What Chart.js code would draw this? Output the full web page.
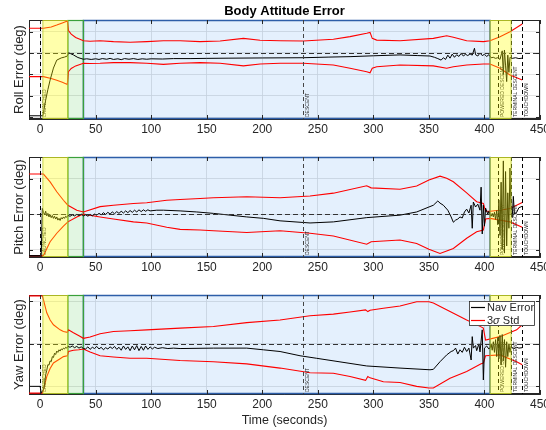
<!DOCTYPE html>
<html>
<head>
<meta charset="utf-8">
<script src="https://cdn.jsdelivr.net/npm/chart.js@4"></script>
<style>
  html, body { margin: 0; padding: 0; background: #fff; }
  #wrap { position: relative; width: 546px; height: 430px; }
  .panel { position: absolute; left: 0; width: 546px; }
  canvas { display: block; }
</style>
</head>
<body>
<div id="wrap">
  <div class="panel" style="top:0;height:140px"><canvas id="roll"></canvas></div>
  <div class="panel" style="top:140px;height:140px"><canvas id="pitch"></canvas></div>
  <div class="panel" style="top:280px;height:150px"><canvas id="yaw"></canvas></div>
</div>
<script>
// time axis and mission events (seconds)
const xTicks = [0, 50, 100, 150, 200, 250, 300, 350, 400, 450];
const eventTimes = [0, 237, 412, 424, 434];
const eventNames = ["LAUNCHED", "DESCENT", "POWERED DESCENT", "TERMINAL DESCENT", "TOUCHDOWN"];
const ascentPhase = [2.5, 25];
const alignPhase = [25, 39];
const cruisePhase = [39, 405];
const landingPhase = [405, 424];

// roll
const rollTicks = [-3, -2, -1, 0, 1];
const rollStdT = [-10, 3, 10, 15, 20, 24.5, 25.5, 28, 32, 39, 45, 54, 66, 81, 96, 111, 126, 144, 162, 183, 198, 216, 237, 264, 279, 294, 297, 299, 303, 324, 354, 366, 372, 384, 399, 405, 414, 423, 434];
const rollUp = [1.15, 1.15, 1.21, 1.30, 1.40, 1.49, 1.04, 0.88, 0.72, 0.57, 0.55, 0.57, 0.53, 0.50, 0.53, 0.57, 0.57, 0.53, 0.56, 0.68, 0.59, 0.57, 0.56, 0.64, 0.76, 0.92, 0.96, 0.68, 0.60, 0.57, 0.68, 0.80, 0.73, 0.57, 0.53, 0.57, 0.76, 0.99, 1.35];
const rollLo = [-1.10, -1.10, -1.19, -1.27, -1.36, -1.46, -0.87, -0.72, -0.60, -0.48, -0.49, -0.48, -0.45, -0.45, -0.48, -0.53, -0.48, -0.45, -0.48, -0.60, -0.51, -0.48, -0.48, -0.56, -0.71, -0.87, -0.92, -0.71, -0.64, -0.56, -0.60, -0.71, -0.64, -0.56, -0.51, -0.51, -0.71, -1.02, -1.26];
const rollNav = [[-10,-2.92],[2.5,-2.92],[5,-2.19],[7,-1.7],[9,-1.26],[12,-0.70],[15,-0.33],[19,-0.23],[22,-0.19],[24.5,-0.14],
  [25.5,0.01],[27,-0.02],[30,-0.09],[34,-0.21],[39,-0.29],[42,-0.27],[46,-0.30],[50,-0.27],[53,-0.30],[56,-0.26],
  [60,-0.29],[63,-0.25],[66,-0.30],[70,-0.27],[73,-0.31],[76,-0.26],[80,-0.29],[84,-0.26],[88,-0.30],[92,-0.27],
  [96,-0.29],[100,-0.27],[110,-0.28],[120,-0.26],[135,-0.26],[150,-0.25],[170,-0.24],[200,-0.23],[237,-0.22],[260,-0.19],
  [279,-0.17],[300,-0.13],[324,-0.09],[340,-0.12],[351,-0.14],[355,-0.20],[358,-0.26],[361,-0.33],[363,-0.22],[365,-0.30],
  [367,-0.10],[369,-0.24],[371,-0.05],[373,-0.20],[375,-0.08],[377,-0.16],[379,-0.02],[381,-0.14],[383,-0.06],[385,-0.12],
  [387,-0.04],[389,-0.10],[391,0.22],[392,-0.08],[394,-0.14],[396,0.0],[398,-0.12],[400,-0.06],[402,-0.16],[404,-0.08],
  [406,-0.22],[408,-0.20],[410,-0.25],[412,-0.22],[414,-0.30],[416,0.10],[417,-1.0],[418,0.14],[419,-0.6],[420,-1.33],
  [421,-0.1],[422,-0.9],[423,-0.2],[425,-0.25],[428,-0.22],[431,-0.26],[434,-0.24]];

// pitch
const pitchTicks = [-1, 0, 1];
const pitchStdT = [-10, 3, 9, 15, 21, 25, 33, 39, 54, 66, 84, 96, 114, 126, 144, 156, 186, 216, 243, 264, 294, 298, 324, 339, 350, 360, 366, 372, 384, 393, 399, 401, 405, 414, 423, 434];
const pitchUp = [1.13, 1.13, 0.91, 0.63, 0.39, 0.25, 0.11, 0.06, 0.21, 0.25, 0.30, 0.32, 0.39, 0.41, 0.44, 0.46, 0.49, 0.46, 0.51, 0.59, 0.80, 0.74, 0.70, 0.79, 0.96, 1.07, 1.01, 0.91, 0.60, 0.35, 0.30, 0.08, 0.08, 0.11, 0.16, 0.33];
const pitchLo = [-1.17, -1.17, -0.78, -0.54, -0.34, -0.22, -0.08, 0.0, -0.08, -0.14, -0.22, -0.25, -0.37, -0.43, -0.45, -0.47, -0.52, -0.47, -0.54, -0.62, -0.85, -0.78, -0.73, -0.83, -0.99, -1.11, -1.04, -0.97, -0.68, -0.50, -0.45, -0.14, -0.12, -0.17, -0.22, -0.37];
const pitchNav = [[-10,-1.17],[1,-1.17],[2,0.16],[3,0.05],[4,-0.02],[5,0.08],[6,-0.05],[7,0.02],[8,-0.08],[9,-0.02],
  [10,-0.10],[11,-0.04],[12,-0.12],[13,-0.06],[14,-0.14],[15,-0.08],[16,-0.17],[17,-0.12],[18,-0.18],[19,-0.10],
  [20,-0.14],[21,-0.08],[22,-0.12],[23,-0.06],[24,-0.09],[25,-0.04],[27,-0.06],[29,-0.02],[31,-0.05],[33,-0.01],
  [35,-0.04],[37,0.0],[39,-0.05],[41,-0.02],[43,-0.06],[45,-0.01],[47,-0.05],[49,0.0],[51,-0.03],[53,0.02],
  [55,-0.02],[57,0.04],[59,-0.01],[61,0.05],[63,0.0],[65,0.06],[67,0.01],[69,0.07],[71,0.02],[73,0.08],
  [75,0.03],[77,0.09],[79,0.04],[81,0.10],[83,0.05],[85,0.11],[87,0.06],[89,0.12],[91,0.07],[93,0.12],
  [95,0.08],[97,0.12],[99,0.09],[105,0.11],[111,0.11],[126,0.09],[141,0.06],[156,0.02],[171,-0.03],[186,-0.08],
  [201,-0.12],[216,-0.19],[243,-0.25],[264,-0.22],[294,-0.10],[324,-0.03],[339,0.06],[350,0.20],[354,0.25],[358,0.37],
  [360,0.31],[363,0.25],[367,0.11],[370,-0.08],[372,-0.23],[374,-0.17],[376,-0.14],[378,-0.08],[380,-0.11],[382,0.06],
  [384,0.14],[386,0.03],[388,0.25],[389,-0.40],[390,0.34],[392,0.20],[394,0.28],[396,0.11],[397,0.76],[398,-0.56],
  [399,0.25],[400,-0.34],[401,0.17],[403,0.0],[404,0.08],[405,0.0],[406,-0.06],[407,0.02],[408,-0.08],[409,0.05],
  [410,-0.15],[411,0.1],[412,-0.3],[413,0.4],[414,-0.6],[415,0.9],[416,-1.0],[417,1.5],[418,-1.1],[419,1.2],
  [420,-0.9],[421,0.6],[422,-0.4],[423,1.3],[424,0.0],[425,-0.1],[426,0.5],[427,0.0],[429,0.05],[431,0.18],[434,0.22]];

// yaw
const yawTicks = [-1, 0, 1];
const yawStdT = [-10, 2, 3, 6, 9, 12, 18, 21, 24.5, 25.5, 30, 35, 39, 45, 54, 66, 81, 96, 126, 156, 186, 216, 243, 264, 279, 293, 295, 297, 309, 324, 339, 350, 354, 369, 384, 397, 399, 401, 414, 429, 434];
const yawUp = [1.13, 1.13, 1.04, 0.73, 0.56, 0.45, 0.33, 0.29, 0.27, 0.33, 0.26, 0.19, 0.13, 0.16, 0.24, 0.29, 0.31, 0.33, 0.37, 0.41, 0.50, 0.56, 0.66, 0.70, 0.75, 0.80, 0.76, 0.79, 0.84, 0.89, 0.99, 0.99, 0.96, 0.76, 0.56, 0.40, 0.37, 0.09, 0.17, 0.33, 0.45];
const yawLo = [-1.16, -1.16, -1.08, -0.77, -0.58, -0.45, -0.35, -0.30, -0.28, -0.18, -0.15, -0.14, -0.12, -0.19, -0.28, -0.31, -0.34, -0.34, -0.39, -0.42, -0.47, -0.57, -0.68, -0.69, -0.77, -0.86, -0.77, -0.80, -0.89, -0.91, -1.0, -1.04, -1.04, -0.81, -0.65, -0.47, -0.45, -0.28, -0.26, -0.42, -0.49];
const yawNav = [[-10,-1.0],[0,-1.0],[1,-1.15],[3,-1.08],[4,-0.95],[5,-0.73],[6,-0.62],[7,-0.49],[8,-0.50],[9,-0.40],
  [10,-0.42],[11,-0.30],[12,-0.32],[13,-0.22],[14,-0.25],[15,-0.17],[16,-0.20],[17,-0.14],[18,-0.17],[19,-0.12],
  [20,-0.14],[21,-0.10],[22,-0.12],[23,-0.08],[24,-0.10],[25,-0.06],[27,-0.08],[29,-0.05],[31,-0.09],[33,-0.06],
  [35,-0.10],[37,-0.07],[39,-0.11],[41,-0.12],[43,-0.07],[45,-0.13],[47,-0.08],[49,-0.11],[51,-0.06],[53,-0.12],
  [55,-0.08],[57,-0.14],[59,-0.09],[61,-0.12],[63,-0.07],[65,-0.11],[67,-0.06],[69,-0.13],[71,-0.08],[73,-0.15],
  [75,-0.05],[77,-0.13],[79,-0.07],[81,-0.16],[83,-0.05],[85,-0.14],[87,-0.04],[89,-0.16],[91,-0.06],[93,-0.15],
  [95,-0.05],[97,-0.13],[99,-0.07],[101,-0.12],[103,-0.08],[106,-0.11],[110,-0.09],[115,-0.11],[120,-0.10],[126,-0.11],
  [156,-0.10],[186,-0.10],[201,-0.14],[216,-0.18],[234,-0.28],[249,-0.34],[294,-0.52],[324,-0.57],[351,-0.61],[354,-0.60],
  [360,-0.42],[366,-0.26],[370,-0.18],[372,-0.16],[374,-0.10],[376,-0.24],[378,-0.14],[380,-0.20],[382,-0.08],[384,-0.18],
  [386,-0.10],[388,-0.38],[389,0.17],[390,-0.10],[392,-0.04],[393,-0.16],[395,0.0],[396,-0.19],[398,0.33],[399,-0.85],
  [400,-0.10],[402,-0.05],[404,-0.12],[405,-0.10],[406,0.0],[407,-0.15],[408,0.05],[409,-0.2],[410,0.1],[411,-0.3],
  [412,0.15],[413,-0.35],[414,0.2],[415,-0.5],[416,0.22],[417,-0.4],[418,0.1],[419,-0.55],[420,0.05],[421,-0.3],
  [422,0.0],[423,-0.2],[424,-0.05],[426,-0.12],[429,-0.08],[431,-0.10],[434,-0.09]];

const FONT = '"Liberation Sans", Arial, Helvetica, sans-serif';
const AXIS = "#262626";

function shade(ctx, a, x, span, fill, edge, lw) {
	const l = x.getPixelForValue(span[0]);
	const r = x.getPixelForValue(span[1]);
	ctx.fillStyle = fill;
	ctx.fillRect(l, a.top, r - l, a.height);
	ctx.strokeStyle = edge;
	ctx.lineWidth = lw;
	ctx.strokeRect(l, a.top + 0.5, r - l, a.height - 1);
}

function drawLegend(chart) {
	const { ctx, chartArea: a } = chart;
	const w = 66, h = 25;
	const l = a.right - 5 - w, t = a.top + 6;
	ctx.save();
	ctx.fillStyle = "#fff";
	ctx.fillRect(l, t, w, h);
	ctx.strokeStyle = AXIS;
	ctx.lineWidth = 0.8;
	ctx.strokeRect(l + 0.5, t + 0.5, w - 1, h - 1);
	const rows = [t + 6.5, t + 19.5];
	const colors = [chart.data.datasets[0].borderColor, chart.data.datasets[1].borderColor];
	rows.forEach((ry, i) => {
		ctx.strokeStyle = colors[i];
		ctx.lineWidth = 1.2;
		ctx.beginPath();
		ctx.moveTo(l + 2, ry);
		ctx.lineTo(l + 16, ry);
		ctx.stroke();
	});
	ctx.fillStyle = AXIS;
	ctx.textBaseline = "middle";
	ctx.font = "11px " + FONT;
	ctx.fillText("Nav Error", l + 18, rows[0]);
	let xx = l + 18;
	ctx.fillText("3", xx, rows[1]);
	xx += ctx.measureText("3").width;
	ctx.font = "italic 11px " + FONT;
	ctx.fillText("σ", xx, rows[1]);
	xx += ctx.measureText("σ").width;
	ctx.font = "11px " + FONT;
	ctx.fillText(" Std", xx, rows[1]);
	ctx.restore();
}

const decor = {
	id: "decor",
	beforeDatasetsDraw(chart) {
		const { ctx, chartArea: a, scales: { x } } = chart;
		ctx.save();
		ctx.strokeStyle = AXIS;
		ctx.lineWidth = 1;
		ctx.strokeRect(a.left + 0.5, a.top + 0.5, a.width - 1, a.height - 1);
		shade(ctx, a, x, cruisePhase, "rgba(30,130,238,0.12)", "#2d5ea8", 1.5);
		shade(ctx, a, x, alignPhase, "rgba(13,180,13,0.12)", "#3aa03a", 1.2);
		ctx.restore();
	},
	afterDatasetsDraw(chart, args, opts) {
		const { ctx, chartArea: a, scales: { x, y } } = chart;
		ctx.save();
		ctx.beginPath();
		ctx.rect(a.left, a.top, a.width, a.height);
		ctx.clip();
		// zero line
		const y0 = Math.round(y.getPixelForValue(0)) + 0.5;
		ctx.setLineDash([5, 3]);
		ctx.strokeStyle = "#333";
		ctx.lineWidth = 1;
		ctx.beginPath();
		ctx.moveTo(a.left, y0);
		ctx.lineTo(a.right, y0);
		ctx.stroke();
		// events
		eventTimes.forEach((t, i) => {
			const px = Math.round(x.getPixelForValue(t)) + 0.5;
			ctx.setLineDash([4, 3]);
			ctx.strokeStyle = i === 1 ? "#444" : "#000";
			ctx.beginPath();
			ctx.moveTo(px, a.top);
			ctx.lineTo(px, a.bottom);
			ctx.stroke();
			ctx.save();
			ctx.translate(px + 2, a.bottom - 2);
			ctx.rotate(-Math.PI / 2);
			ctx.font = "5px " + FONT;
			ctx.fillStyle = "#222";
			ctx.textBaseline = "top";
			ctx.textAlign = "left";
			ctx.fillText(eventNames[i], 0, 0);
			ctx.restore();
		});
		ctx.setLineDash([]);
		[ascentPhase, landingPhase].forEach((p) => shade(ctx, a, x, p, "rgba(255,255,0,0.33)", "rgba(185,200,40,0.8)", 1));
		ctx.restore();

		// inward tick marks
		ctx.save();
		ctx.strokeStyle = AXIS;
		ctx.lineWidth = 1;
		ctx.beginPath();
		x.ticks.forEach((t) => {
			const px = Math.round(x.getPixelForValue(t.value)) + 0.5;
			ctx.moveTo(px, a.bottom);
			ctx.lineTo(px, a.bottom - 4);
			ctx.moveTo(px, a.top);
			ctx.lineTo(px, a.top + 4);
		});
		y.ticks.forEach((t) => {
			const py = Math.round(y.getPixelForValue(t.value)) + 0.5;
			ctx.moveTo(a.left, py);
			ctx.lineTo(a.left + 4, py);
			ctx.moveTo(a.right, py);
			ctx.lineTo(a.right - 4, py);
		});
		ctx.stroke();
		ctx.restore();

		if (opts.legend) drawLegend(chart);
	},
};

function points(ts, vs) {
	return ts.map((t, i) => ({ x: t, y: vs[i] }));
}

function panel(id, o) {
	return new Chart(document.getElementById(id), {
		type: "line",
		data: {
			datasets: [
				{ label: "Nav Error", data: o.nav.map((p) => ({ x: p[0], y: p[1] })), borderColor: "#000000", borderWidth: 1 },
				{ label: "3σ Std", data: points(o.stdT, o.up), borderColor: "#ff0000", borderWidth: 1.1 },
				{ label: "3σ Std (lower)", data: points(o.stdT, o.lo), borderColor: "#ff0000", borderWidth: 1.1 },
			],
		},
		options: {
			responsive: true,
			maintainAspectRatio: false,
			animation: false,
			elements: { point: { radius: 0 }, line: { tension: 0 } },
			layout: { padding: { top: o.padTop, right: 6, left: 0, bottom: 0 } },
			plugins: {
				legend: { display: false },
				tooltip: { enabled: false },
				title: {
					display: !!o.title,
					text: o.title || "",
					fullSize: false,
					color: "#000",
					font: { family: FONT, size: 13, weight: "bold" },
					padding: { top: 3.7, bottom: 0.7 },
				},
				decor: { legend: !!o.legend },
			},
			scales: {
				x: {
					type: "linear",
					min: -10,
					max: 450,
					afterBuildTicks: (s) => { s.ticks = xTicks.map((v) => ({ value: v })); },
					afterFit: (s) => { s.height = o.xHeight; s.paddingLeft = 0; s.paddingRight = 0; },
					ticks: { font: { family: FONT, size: 12 }, color: AXIS, padding: 3, maxRotation: 0, autoSkip: false },
					grid: { color: "#dcdcdc", lineWidth: 0.8, drawTicks: false },
					border: { color: AXIS, width: 1 },
					title: {
						display: !!o.xLabel,
						text: o.xLabel || "",
						color: AXIS,
						font: { family: FONT, size: 12.5 },
						padding: { top: 0, bottom: 1.5 },
					},
				},
				y: {
					min: o.yMin,
					max: o.yMax,
					afterBuildTicks: (s) => { s.ticks = o.yTicks.map((v) => ({ value: v })); },
					afterFit: (s) => { s.width = 29; },
					ticks: { display: false },
					grid: { color: "#dcdcdc", lineWidth: 0.8, drawTicks: false },
					border: { color: AXIS, width: 1 },
					title: {
						display: true,
						text: o.yLabel,
						color: AXIS,
						font: { family: FONT, size: 13 },
						padding: { top: 11.2, bottom: 0 },
					},
				},
			},
		},
		plugins: [decor],
	});
}

panel("roll", {
	nav: rollNav, stdT: rollStdT, up: rollUp, lo: rollLo,
	yMin: -3.07, yMax: 1.535, yTicks: rollTicks, yLabel: "Roll Error (deg)",
	title: "Body Attitude Error", padTop: 0, xHeight: 21,
});
panel("pitch", {
	nav: pitchNav, stdT: pitchStdT, up: pitchUp, lo: pitchLo,
	yMin: -1.21, yMax: 1.61, yTicks: pitchTicks, yLabel: "Pitch Error (deg)",
	padTop: 17, xHeight: 23,
});
panel("yaw", {
	nav: yawNav, stdT: yawStdT, up: yawUp, lo: yawLo,
	yMin: -1.18, yMax: 1.15, yTicks: yawTicks, yLabel: "Yaw Error (deg)",
	xLabel: "Time (seconds)", padTop: 15, xHeight: 36, legend: true,
});
</script>
</body>
</html>
